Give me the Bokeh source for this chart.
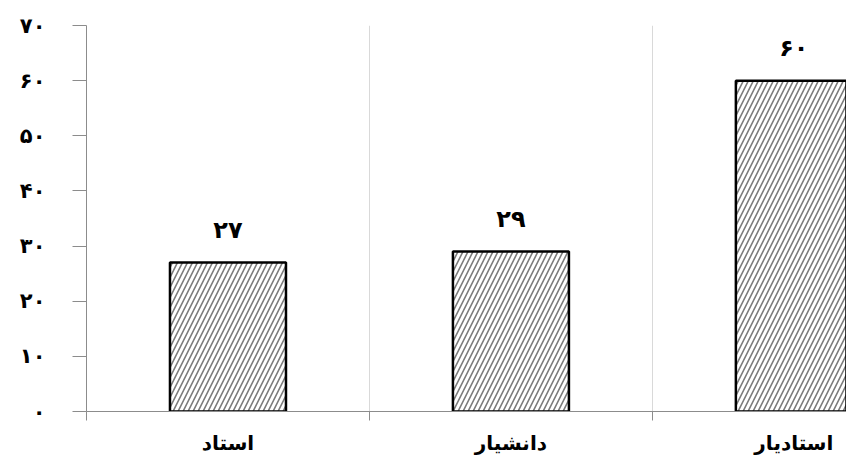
from bokeh.plotting import figure
from bokeh.models import ColumnDataSource, FixedTicker, Range1d
from bokeh.core.properties import value
from bokeh.embed import file_html
from bokeh.resources import INLINE

categories = ["استاد", "دانشیار", "استادیار"]
counts = [27, 29, 60]
count_labels = ["۲۷", "۲۹", "۶۰"]
y_ticks = [0, 10, 20, 30, 40, 50, 60, 70]
y_tick_labels = ["۰", "۱۰", "۲۰", "۳۰", "۴۰", "۵۰", "۶۰", "۷۰"]

xpos = [i + 0.5 for i in range(len(categories))]
src = ColumnDataSource(dict(x=xpos, top=counts, lab=count_labels))

FONT = "DejaVu Sans"

p = figure(width=846, height=457, output_backend="svg", toolbar_location=None,
           x_range=Range1d(0, 2.686), y_range=Range1d(0, 70),
           min_border_left=86, min_border_right=0, min_border_top=25, min_border_bottom=46)
p.outline_line_color = None
p.background_fill_color = "white"

p.vbar(x="x", top="top", bottom=0, width=0.41, source=src,
       fill_color="white", line_color="black", line_width=2.5,
       hatch_pattern="/", hatch_color="#7a7a7a", hatch_scale=10, hatch_weight=1.6)

p.text(x="x", y="top", text="lab", source=src, y_offset=-33,
       text_align="center", text_baseline="middle",
       text_font=value(FONT), text_font_style="bold", text_font_size="24px", text_color="black")

# y axis
p.yaxis.ticker = FixedTicker(ticks=y_ticks)
p.yaxis.major_label_overrides = {t: l for t, l in zip(y_ticks, y_tick_labels)}
p.yaxis.axis_line_color = "#8c8c8c"
p.yaxis.major_tick_line_color = "#8c8c8c"
p.yaxis.major_tick_out = 14
p.yaxis.major_tick_in = 0
p.yaxis.minor_tick_line_color = None
p.yaxis.major_label_standoff = 27
p.yaxis.major_label_text_font = FONT
p.yaxis.major_label_text_font_style = "bold"
p.yaxis.major_label_text_font_size = "21px"
p.yaxis.major_label_text_color = "black"

# x axis
p.xaxis.ticker = FixedTicker(ticks=xpos, minor_ticks=[0, 1, 2, 3])
p.xaxis.major_label_overrides = {x: c for x, c in zip(xpos, categories)}
p.xaxis.axis_line_color = "#8c8c8c"
p.xaxis.major_tick_line_color = None
p.xaxis.minor_tick_line_color = "#8c8c8c"
p.xaxis.minor_tick_out = 9
p.xaxis.minor_tick_in = 0
p.xaxis.major_label_standoff = 10
p.xaxis.major_label_text_font = FONT
p.xaxis.major_label_text_font_style = "bold"
p.xaxis.major_label_text_font_size = "20px"
p.xaxis.major_label_text_color = "black"

p.ygrid.grid_line_color = None
p.xgrid.ticker = FixedTicker(ticks=[1, 2])
p.xgrid.grid_line_color = "#d9d9d9"
p.xgrid.grid_line_width = 1

open("out.html", "w").write(file_html(p, INLINE))
